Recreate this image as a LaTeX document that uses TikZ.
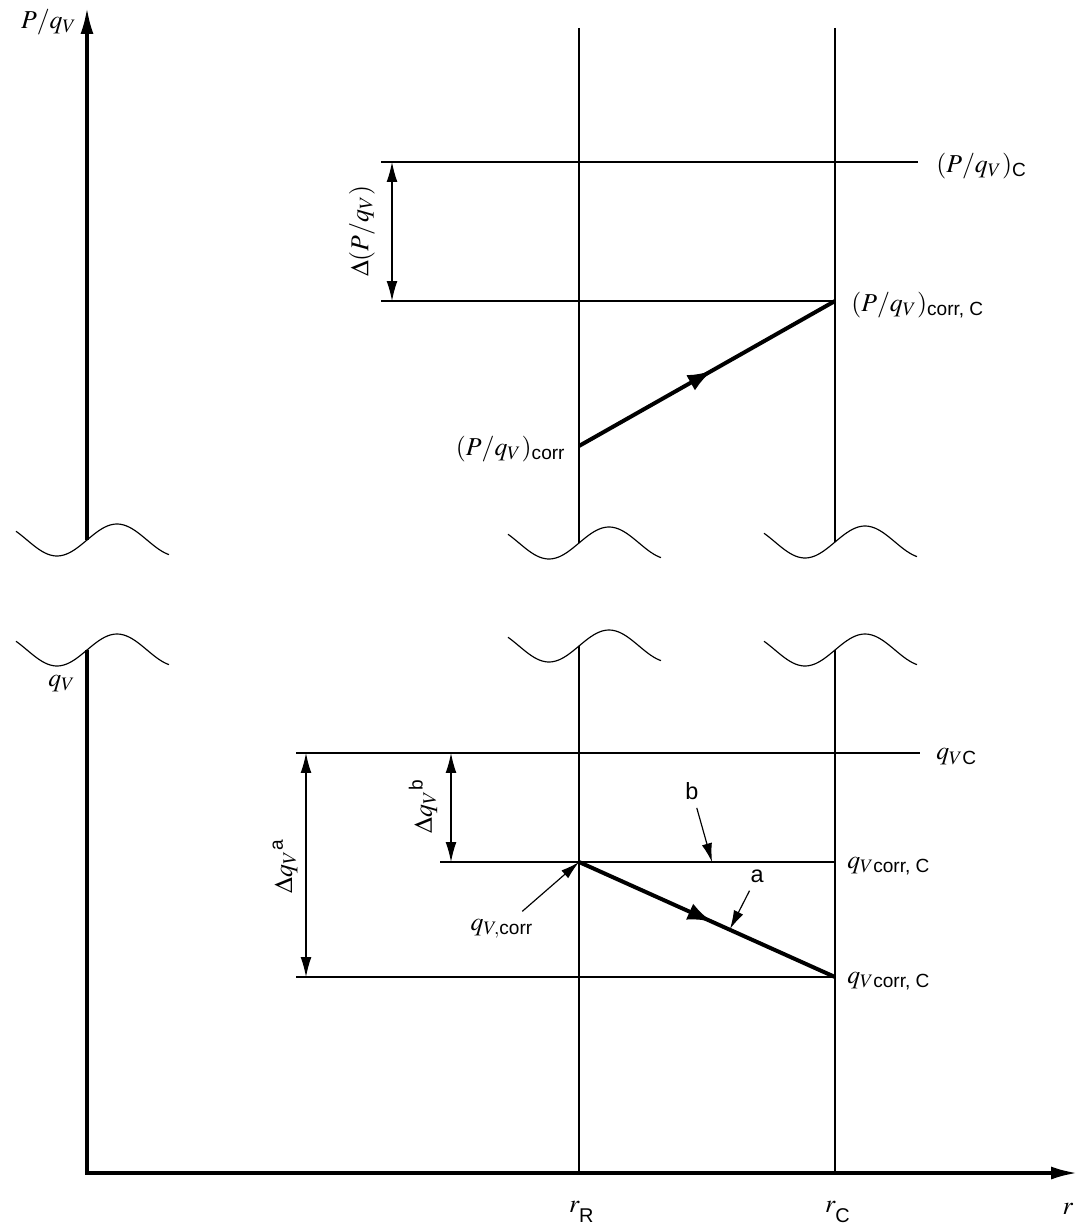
\documentclass[tikz,border=0pt]{standalone}
\usepackage{amsmath}
\usepackage{mathptmx}
\usepackage[no-math]{fontspec}
\setsansfont{Liberation Sans}
\usetikzlibrary{arrows.meta, positioning, decorations.markings}

\newcommand{\waveat}[2]{\draw[thin line] plot[domain=-71:82, samples=60, smooth] ({#1+\x},{#2-16*sin(3*\x)});}
\newcommand{\lowsub}[1]{\lower0.55ex\hbox{\sffamily\fontsize{8.5}{10}\selectfont #1}}

\begin{document}
\begin{tikzpicture}[x=0.015cm, y=-0.015cm, font=\fontsize{11}{13}\selectfont,
    axis/.style = {line width=1.3pt},
    thin line/.style = {line width=0.5pt},
    graph/.style = {line width=1.7pt},
    dim/.style = {line width=0.5pt, {Latex[length=8.5pt,width=4.6pt]}-{Latex[length=8.5pt,width=4.6pt]}},
    lead/.style = {line width=0.5pt, -{Latex[length=8pt,width=4.4pt]}},
    midarrow/.style = {postaction={decorate}, decoration={markings,
        mark=at position 0.52 with {\arrow{Latex[length=10.5pt,width=7.5pt]}}}}]
        \useasboundingbox (0,0) rectangle (1081,1231);
        \coordinate (ytop) at (87,8);
        \coordinate (yu) at (87,540);
        \coordinate (yl) at (87,650);
        \coordinate (xend) at (1077,1173);
        \coordinate (rRtop) at (579,28);
        \coordinate (rRu) at (579,543);
        \coordinate (rRl) at (579,646);
        \coordinate (rR) at (579,1173);
        \coordinate (rCtop) at (835,28);
        \coordinate (rCu) at (835,542);
        \coordinate (rCl) at (835,650);
        \coordinate (rC) at (835,1173);
        % axes
        \draw[axis, -{Latex[length=11pt,width=5.5pt]}] (yu) -- (ytop);
        \draw[axis, -{Latex[length=11pt,width=5.5pt]}] (yl) |- (xend);
        \draw[thin line] (rRtop) -- (rRu) (rRl) -- (rR);
        \draw[thin line] (rCtop) -- (rCu) (rCl) -- (rC);
        \waveat{87}{540}
        \waveat{87}{650}
        \waveat{579}{543}
        \waveat{835}{542}
        \waveat{579}{646}
        \waveat{835}{650}
        \node (Pq) at (49,22) {$P/q_V$};
        \node (qv) at (62,684) {$q_V$};
        \node (lrR) at (582,1212) {$r_{\lowsub{R}}$};
        \node (lrC) at (838,1212) {$r_{\lowsub{C}}$};
        \node (lr) at (1068,1209) {$r$};
        % upper part
        \coordinate (PCl) at (381,162);
        \coordinate (PCr) at (918,162);
        \coordinate (Pcl) at (381,301);
        \coordinate (PcC) at (835,301);
        \coordinate (Pc) at (579,446);
        \draw[thin line] (PCl) -- (PCr);
        \draw[thin line] (Pcl) -- (PcC);
        \draw[dim] (392,162) -- (392,301);
        \node[rotate=90] (dP) at (362,231) {$\Delta(P/q_V)$};
        \draw[graph, midarrow] (Pc) -- (PcC);
        \node[anchor=east] (lPc) at (574,449) {$(P/q_V)_{\textsf{corr}}$};
        \node[anchor=west] (lPC) at (928,166) {$(P/q_V)_{\textsf{C}}$};
        \node[anchor=west] (lPcC) at (843,305) {$(P/q_V)_{\textsf{corr, C}}$};
        % lower part
        \coordinate (qCl) at (296,753);
        \coordinate (qCr) at (920,753);
        \coordinate (qbl) at (440,862);
        \coordinate (qR) at (579,862);
        \coordinate (qbC) at (835,862);
        \coordinate (qal) at (296,977);
        \coordinate (qaC) at (835,977);
        \coordinate (bpt) at (712,862);
        \coordinate (apt) at (730,929);
        \draw[thin line] (qCl) -- (qCr);
        \draw[thin line] (qbl) -- (qbC);
        \draw[thin line] (qal) -- (qaC);
        \draw[dim] (306,753) -- (306,977);
        \draw[dim] (451,753) -- (451,862);
        \node[rotate=90] (dqa) at (285,866) {$\Delta q_V{}^{\textsf{a}}$};
        \node[rotate=90] (dqb) at (423,806) {$\Delta q_V{}^{\textsf{b}}$};
        \draw[graph, midarrow] (qR) -- (qaC);
        \node[anchor=west] (lqC) at (928,757) {$q_{V\textsf{C}}$};
        \node[anchor=west] (lqbC) at (839,866) {$q_{V\textsf{corr, C}}$};
        \node[anchor=west] (lqaC) at (839,981) {$q_{V\textsf{corr, C}}$};
        \node (lqc) at (502,929) {$q_{V,\textsf{corr}}$};
        \node[font=\sffamily\fontsize{10}{12}\selectfont] (lb) at (692,791) {b};
        \node[font=\sffamily\fontsize{10}{12}\selectfont] (la) at (757,876) {a};
        \draw[lead] (lqc) -- (qR);
        \draw[lead] (lb) -- (bpt);
        \draw[lead] (la) -- (apt);
\end{tikzpicture}
\end{document}
